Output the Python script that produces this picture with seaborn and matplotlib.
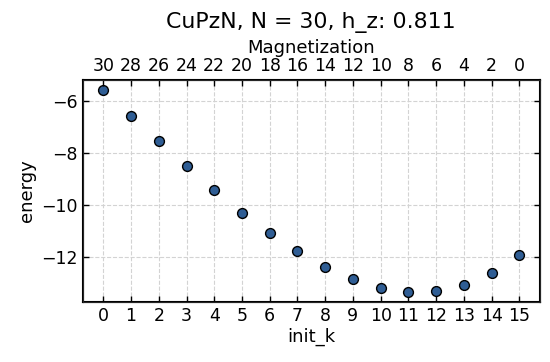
import matplotlib
matplotlib.use("Agg")
import matplotlib.pyplot as plt
import seaborn as sns
import pandas as pd

init_k = list(range(16))
energy = [-5.58, -6.58, -7.55, -8.52, -9.45, -10.31, -11.10, -11.79,
          -12.39, -12.87, -13.19, -13.36, -13.32, -13.08, -12.63, -11.93]
magnetization = [30, 28, 26, 24, 22, 20, 18, 16, 14, 12, 10, 8, 6, 4, 2, 0]

df = pd.DataFrame({"init_k": init_k, "energy": energy})

sns.set_style("white")
plt.rcParams['font.family'] = ['DejaVu Sans']
plt.rcParams['text.color'] = 'black'
plt.rcParams['axes.labelcolor'] = 'black'
plt.rcParams['xtick.color'] = 'black'
plt.rcParams['ytick.color'] = 'black'

fig, ax = plt.subplots(figsize=(5.5, 3.62), dpi=100)
sns.scatterplot(data=df, x="init_k", y="energy", ax=ax, s=50,
                color="#2f5d94", edgecolor="black", linewidth=1.0, zorder=3)
ax.set_xticks(init_k)
ax.set_xlabel("init_k", fontsize=13, labelpad=2)
ax.set_ylabel("energy", fontsize=13)
ax.tick_params(direction="in", labelsize=12.5, length=4, width=1, left=True, bottom=True, right=True)
ax.grid(True, linestyle="--", color="#d3d3d3", linewidth=0.8)
for s in ax.spines.values():
    s.set_linewidth(1.5)
    s.set_color("black")

ax2 = ax.twiny()
ax2.set_xlim(ax.get_xlim())
ax2.set_xticks(init_k)
ax2.set_xticklabels([str(m) for m in magnetization])
ax2.tick_params(direction="in", labelsize=12.5, length=4, width=1)
ax2.set_xlabel("Magnetization", fontsize=13, labelpad=3)
ax.set_title("CuPzN, N = 30, h_z: 0.811", fontsize=15.8, pad=8)

fig.subplots_adjust(left=0.15, right=0.982, bottom=0.165, top=0.78)
fig.savefig("out.png", dpi=100)
